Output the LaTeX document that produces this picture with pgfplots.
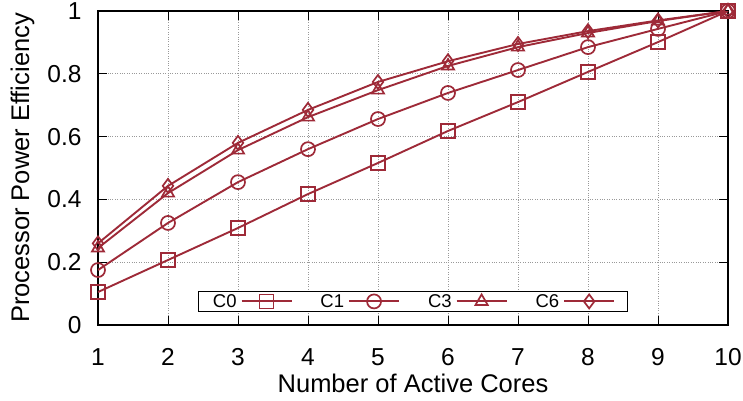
\documentclass[border=0pt]{standalone}
\usepackage{pgfplots}
\pgfplotsset{compat=1.18}
\usepackage{fontspec}
\setmainfont{Liberation Sans}
\definecolor{lc}{RGB}{158,42,56}
\begin{document}
\begin{tikzpicture}
\begin{axis}[
  scale only axis, width=630pt, height=314pt,
  at={(0,0)}, anchor=south west,
  xmin=1, xmax=10, ymin=0, ymax=1,
  xtick={1,...,10}, ytick={0,0.2,0.4,0.6,0.8,1},
  yticklabels={0,0.2,0.4,0.6,0.8,1},
  xticklabels={1,2,3,4,5,6,7,8,9,10},
  tick align=inside, major tick length=9pt,
  tick style={black, line width=1pt},
  axis line style={black, line width=1.3pt},
  ticklabel style={font=\fontsize{24.5}{28}\selectfont},
  xticklabel style={yshift=-20pt},
  yticklabel style={xshift=-13pt},
  label style={font=\fontsize{25.5}{28}\selectfont},
  xlabel={Number of Active Cores},
  ylabel={Processor Power Efficiency},
  xlabel style={yshift=-1pt},
  ylabel style={yshift=6pt},
  grid=major,
  major grid style={dotted, gray!80, line width=0.9pt},
  legend plot pos=right,
  legend columns=4,
  legend image code/.code={\draw[mark repeat=2,mark phase=2,#1] plot coordinates {(0pt,0pt) (25pt,0pt) (50pt,0pt)};},
  legend style={at={(0.5,0.041)}, anchor=south, draw=black, line width=1pt,
    font=\fontsize{18.5}{20}\selectfont, inner xsep=12pt, inner ysep=1pt,
    /tikz/every even column/.append style={column sep=26pt},
    /tikz/every odd column/.append style={column sep=2pt},
    nodes={inner sep=2pt}},
]
\addplot[lc, line width=1.9pt, mark size=7pt, mark options={solid, line width=1.7pt}, mark=square] coordinates {(1,0.105) (2,0.207) (3,0.309) (4,0.417) (5,0.516) (6,0.618) (7,0.71) (8,0.806) (9,0.901) (10,1)};
\addlegendentry{C0}
\addplot[lc, line width=1.9pt, mark size=7pt, mark options={solid, line width=1.7pt}, mark=o] coordinates {(1,0.175) (2,0.325) (3,0.455) (4,0.56) (5,0.656) (6,0.739) (7,0.812) (8,0.885) (9,0.943) (10,1)};
\addlegendentry{C1}
\addplot[lc, line width=1.9pt, mark size=7pt, mark options={solid, line width=1.7pt}, mark=triangle] coordinates {(1,0.245) (2,0.42) (3,0.557) (4,0.662) (5,0.748) (6,0.825) (7,0.885) (8,0.93) (9,0.968) (10,1)};
\addlegendentry{C3}
\addplot[lc, line width=1.9pt, mark size=7pt, mark options={solid, line width=1.7pt}, mark=diamond] coordinates {(1,0.26) (2,0.443) (3,0.58) (4,0.685) (5,0.774) (6,0.84) (7,0.895) (8,0.936) (9,0.97) (10,1)};
\addlegendentry{C6}
\end{axis}
\pgfresetboundingbox
\path (-98pt,-75pt) rectangle (645pt,325pt);
\end{tikzpicture}
\end{document}
